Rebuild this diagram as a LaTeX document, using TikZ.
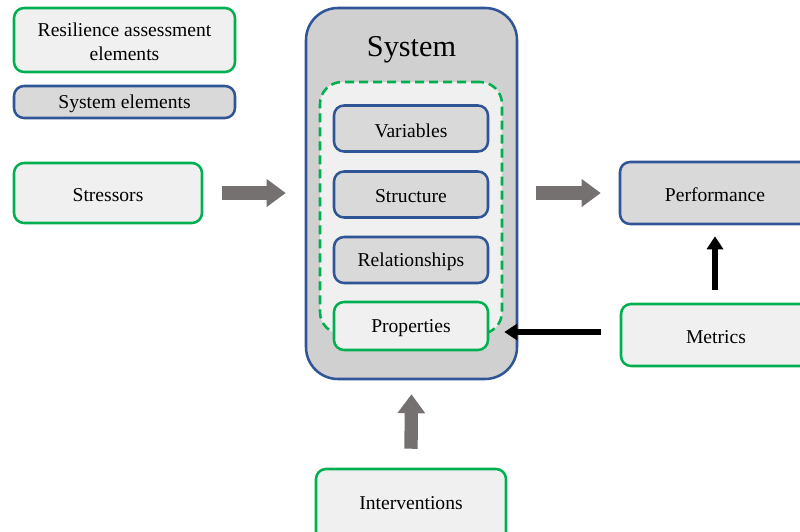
\documentclass[tikz,border=0pt]{standalone}
\usepackage{fontspec}
\setmainfont{Liberation Serif}
\usetikzlibrary{arrows.meta,calc}
\definecolor{grn}{HTML}{00B050}
\definecolor{blu}{HTML}{2F5597}
\definecolor{lfill}{HTML}{F0F0F0}
\definecolor{dfill}{HTML}{D9D9D9}
\definecolor{sysfill}{HTML}{D0D0D0}
\definecolor{garrow}{HTML}{767171}
\tikzset{
  lbl/.style={font=\fontsize{14.7pt}{18pt}\selectfont, align=center},
  base/.style={rounded corners=10*0.75pt, line width=1.9pt, align=center,
    font=\fontsize{14.7pt}{18pt}\selectfont, inner sep=0pt},
  assess/.style={base, draw=grn, fill=lfill},
  syselem/.style={base, draw=blu, fill=dfill},
  bigarrow/.style={draw=garrow, line width=10pt, -{Triangle[length=19*0.75pt, width=20pt]}},
  blkarrow/.style={draw=black, line width=4.6pt, -{Triangle[length=13*0.75pt, width=12pt]}},
}
\begin{document}
\begin{tikzpicture}[x=0.75pt, y=-0.75pt]
\useasboundingbox (0,0) rectangle (800,532);
\clip (0,0) rectangle (800,532);
% legend
\node[assess, minimum width=221*0.75pt, minimum height=64*0.75pt] (leg1) at (124.5,40) {};
\node[lbl] (leg1t) at (124.5,42) {Resilience assessment\\elements};
\node[syselem, minimum width=221*0.75pt, minimum height=32*0.75pt] (leg2) at (124.5,102) {};
\node[lbl] (leg2t) at (124.5,104) {System elements};
% stressors
\node[assess, minimum width=188*0.75pt, minimum height=60*0.75pt] (stress) at (108,193) {};
\node[lbl] (stresst) at (108,195) {Stressors};
% system
\node[base, draw=blu, fill=sysfill, rounded corners=32*0.75pt, minimum width=211*0.75pt, minimum height=371*0.75pt] (sys) at (411.5,193.5) {};
\node[font=\fontsize{22.7pt}{26pt}\selectfont, anchor=base] (systitle) at (411.5,56) {System};
\node[draw=grn, fill=lfill, dashed, dash pattern=on 9*0.75pt off 5*0.75pt, line width=1.9pt, rounded corners=22*0.75pt, minimum width=182*0.75pt, minimum height=252*0.75pt, inner sep=0pt] (dash) at (411,208) {};
\node[syselem, minimum width=154*0.75pt, minimum height=46*0.75pt] (var) at (411,128.5) {};
\node[lbl] (vart) at (411,130.5) {Variables};
\node[syselem, minimum width=154*0.75pt, minimum height=46*0.75pt] (struct) at (411,194.5) {};
\node[lbl] (structt) at (411,196.5) {Structure};
\node[syselem, minimum width=154*0.75pt, minimum height=46*0.75pt] (rel) at (411,260) {};
\node[lbl] (relt) at (411,262) {Relationships};
\node[assess, minimum width=154*0.75pt, minimum height=48*0.75pt] (prop) at (411,326) {};
\node[lbl] (propt) at (411,328) {Properties};
% performance, metrics, interventions
\node[syselem, minimum width=210*0.75pt, minimum height=62*0.75pt] (perf) at (725,193) {};
\node[lbl] (perft) at (715,195) {Performance};
\node[assess, minimum width=210*0.75pt, minimum height=62*0.75pt] (metr) at (726,335) {};
\node[lbl] (metrt) at (716,337) {Metrics};
\node[assess, minimum width=190*0.75pt, minimum height=80*0.75pt] (interv) at (411,509) {};
\node[lbl] (intervt) at (411,503) {Interventions};
% arrows
\draw[bigarrow] ([xshift=19*0.75pt]stress.east) -- ([xshift=-19*0.75pt]stress.east -| sys.west);
\draw[bigarrow] ([xshift=18*0.75pt]sys.east |- perf.west) -- ([xshift=-18*0.75pt]perf.west);
\draw[bigarrow] ([yshift=19*0.75pt]interv.north) -- ([yshift=-14*0.75pt]sys.south);
\coordinate (mn) at ($(metr.north -| perft.south)+(0,-13)$);
\coordinate (ps) at ($(perf.south -| perft.south)+(0,11)$);
\draw[blkarrow] (mn) -- (ps);
\coordinate (mw) at ($(metr.west)+(-19,-3)$);
\coordinate (pe) at ($(prop.east |- mw)+(15,0)$);
\draw[blkarrow] (mw) -- (pe);
\end{tikzpicture}
\end{document}
